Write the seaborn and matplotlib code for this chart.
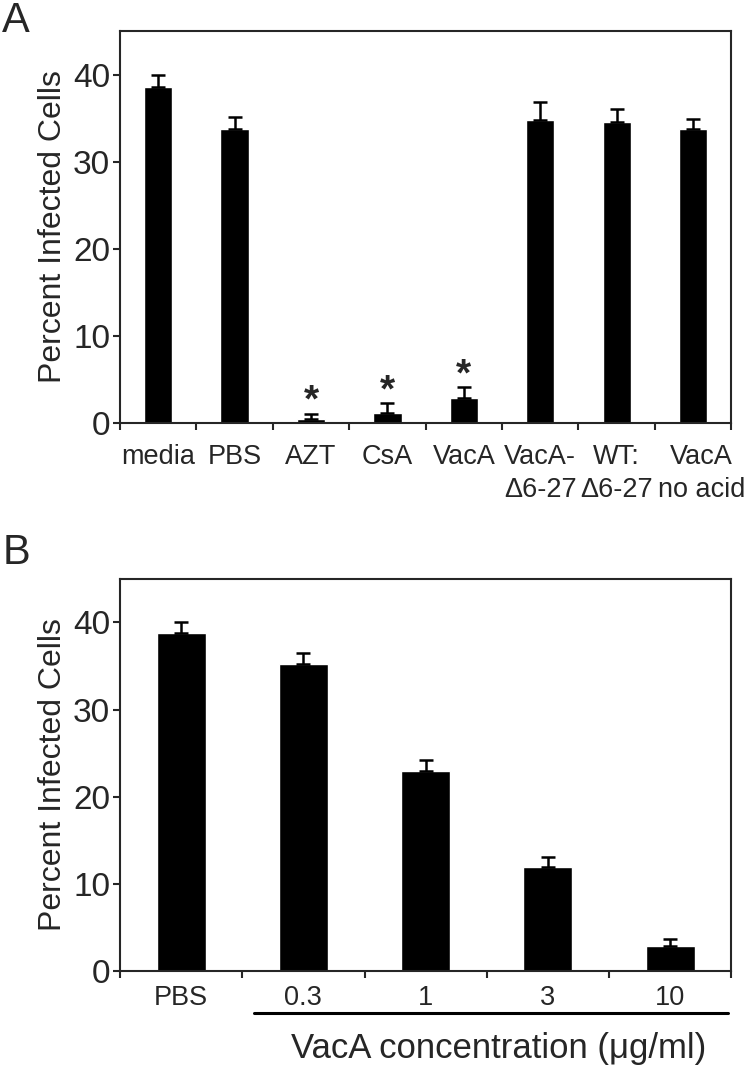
"""Percent infected cells: treatment panel (A) and VacA dose panel (B)."""

import matplotlib

matplotlib.use("Agg")
import matplotlib.pyplot as plt
import matplotlib.transforms as mtransforms
import pandas as pd
import seaborn as sns

# panel A
treatments = ["media", "PBS", "AZT", "CsA", "VacA",
              "VacA-\n\u03946-27", "WT:\n\u03946-27", "VacA\nno acid"]
treat_means = [38.6, 33.7, 0.5, 1.2, 2.9, 34.8, 34.6, 33.7]
treat_err = [1.4, 1.4, 0.6, 1.1, 1.2, 2.1, 1.4, 1.2]
significant = ["AZT", "CsA", "VacA"]

# panel B
doses = ["PBS", "0.3", "1", "3", "10"]
dose_means = [38.8, 35.2, 22.9, 12.0, 2.9]
dose_err = [1.2, 1.3, 1.3, 1.1, 0.8]

sns.set_style("ticks")
plt.rcParams["font.family"] = ["Liberation Sans", "DejaVu Sans"]
plt.rcParams["axes.linewidth"] = 1.5


def draw_panel(ax, labels, means, err, bar_width, label_pad):
    df = pd.DataFrame({"group": labels, "value": means})
    sns.barplot(data=df, x="group", y="value", color="black", saturation=1,
                width=bar_width, errorbar=None, ax=ax)
    ax.errorbar(range(len(labels)), means, yerr=[[0] * len(err), err],
                fmt="none", ecolor="black", elinewidth=1.8, capsize=5, capthick=1.8)
    ax.set_xlim(-0.5, len(labels) - 0.5)
    ax.set_ylim(0, 45)
    ax.set_yticks([0, 10, 20, 30, 40])
    ax.set_xticks([i - 0.5 for i in range(len(labels) + 1)], minor=True)
    ax.tick_params(axis="x", which="major", length=0, labelsize=19.5, pad=label_pad)
    ax.tick_params(axis="x", which="minor", length=5, width=1.5, direction="out")
    ax.tick_params(axis="y", length=5, width=1.5, labelsize=24, pad=2)
    for lab in ax.get_xticklabels():
        lab.set_linespacing(1.35)
    ax.set_xlabel("")
    ax.set_ylabel("Percent Infected Cells", fontsize=23, labelpad=4)
    for side in ["top", "right", "left", "bottom"]:
        ax.spines[side].set_visible(True)
        ax.spines[side].set_linewidth(1.5)


fig = plt.figure(figsize=(7.5, 10.66), dpi=100)
ax_a = fig.add_axes([0.16, 0.603, 0.815, 0.368])
ax_b = fig.add_axes([0.16, 0.089, 0.815, 0.368])

draw_panel(ax_a, treatments, treat_means, treat_err, 0.37, 15)
# nudge the last label right so "no acid" clears its neighbour
last = ax_a.get_xticklabels()[-1]
last.set_transform(last.get_transform()
                   + mtransforms.ScaledTranslation(6 / 72, 0, fig.dpi_scale_trans))
for i, name in enumerate(treatments):
    if name in significant:
        ax_a.text(i, treat_means[i] + treat_err[i] - 0.7, "*", ha="center",
                  va="bottom", fontsize=28, fontweight="bold")

draw_panel(ax_b, doses, dose_means, dose_err, 0.40, 10)
trans = ax_b.get_xaxis_transform()
ax_b.plot([0.6, 4.47], [-0.107, -0.107], color="black", linewidth=2.2,
          transform=trans, clip_on=False)
ax_b.text(2.6, -0.197, "VacA concentration (\u03bcg/ml)", transform=trans,
          ha="center", va="center", fontsize=25)

fig.text(0.003, 0.999, "A", fontsize=30, va="top", ha="left")
fig.text(0.003, 0.500, "B", fontsize=30, va="top", ha="left")

fig.savefig("out.png", dpi=100)
plt.close(fig)
